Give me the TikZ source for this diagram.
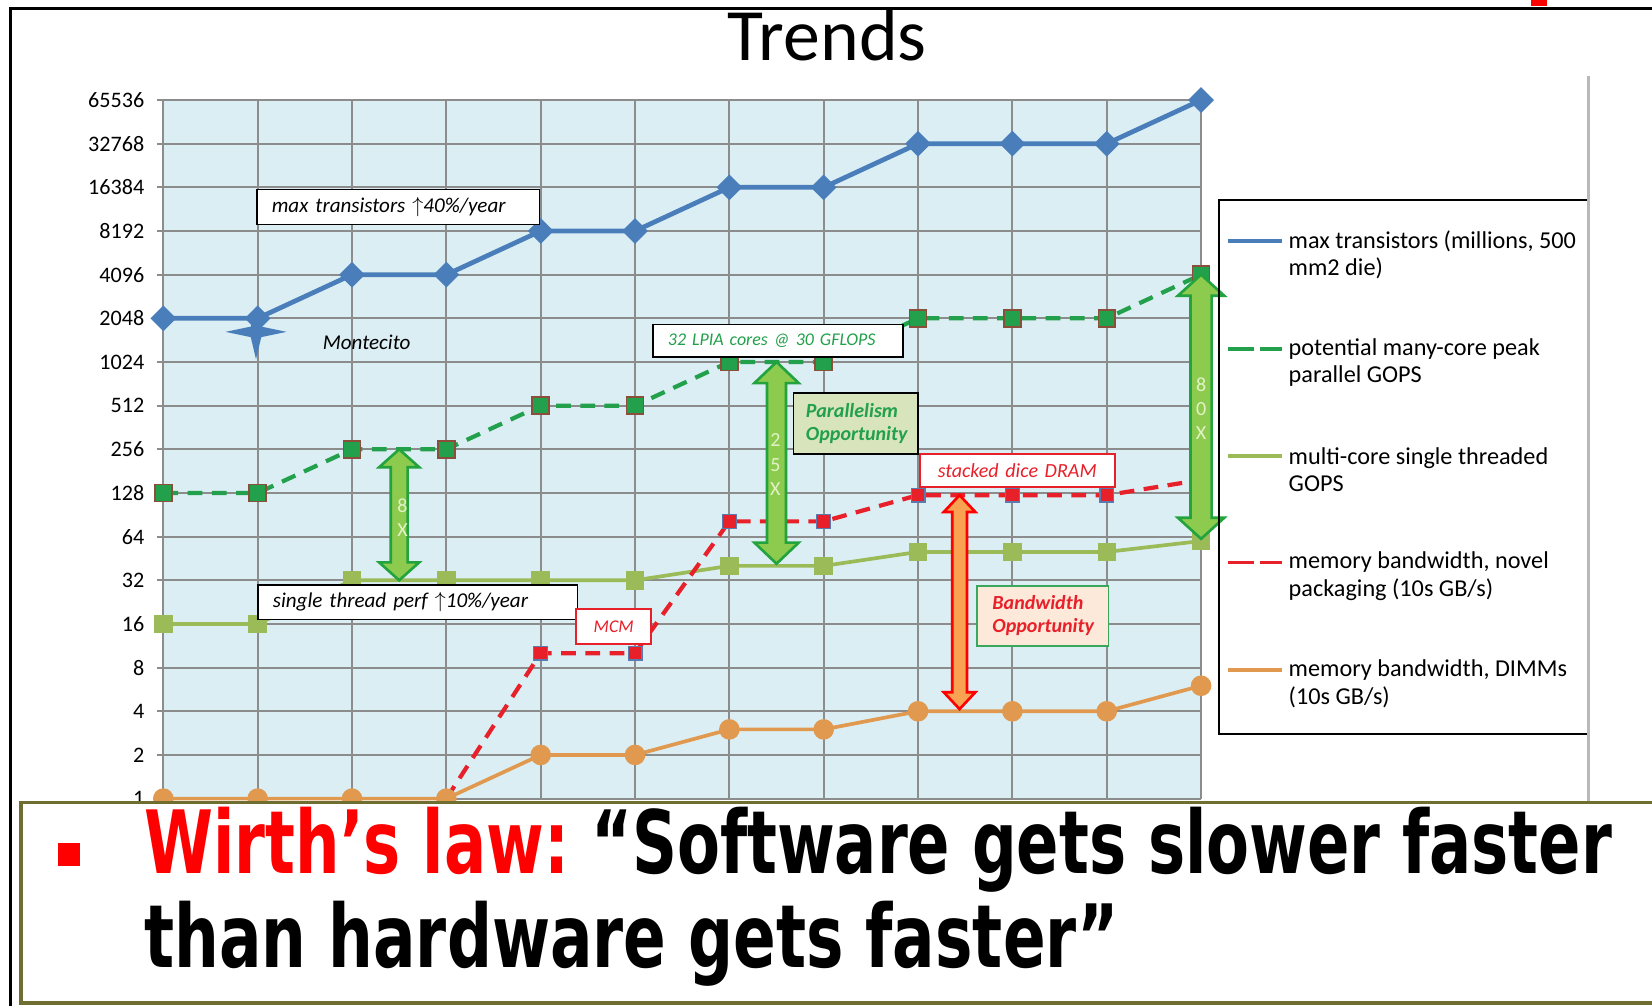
\documentclass[tikz,border=0pt]{standalone}
\usepackage{graphicx}
\usepackage{fontspec}
\setmainfont{Carlito}
\newfontfamily\lawfont{DejaVu Sans}
\usetikzlibrary{calc,plotmarks}

\definecolor{plotbg}{HTML}{DBEEF4}
\definecolor{gridgray}{HTML}{8C8C8C}
\definecolor{transblue}{HTML}{4A7EBB}
\definecolor{coregreen}{HTML}{22A04B}
\definecolor{markbrown}{HTML}{8A4E3A}
\definecolor{singleolive}{HTML}{9BBB59}
\definecolor{memred}{HTML}{E8202A}
\definecolor{markslate}{HTML}{5B7BB0}
\definecolor{dimmorange}{HTML}{E0994F}
\definecolor{arrowgreen}{HTML}{22A33E}
\definecolor{arrowfill}{HTML}{8DCB4E}
\definecolor{arrowlabel}{HTML}{E2F2C8}
\definecolor{bworange}{HTML}{F9A352}
\definecolor{parfill}{HTML}{D7E4BC}
\definecolor{bwfill}{HTML}{FCE9D9}
\definecolor{bwborder}{HTML}{3AA85A}
\definecolor{lawframe}{HTML}{6E6E30}
\definecolor{lawred}{HTML}{FF0000}

\newcommand\fatarrow[6]{%
  \draw[#1] (#2) -- ++(#5,-#6) -- ++(#4-#5,0) -- ($(#3)+(#4,#6)$) -- ++(#5-#4,0)
    -- (#3) -- ++(-#5,#6) -- ++(#5-#4,0) -- ($(#2)+(-#4,-#6)$) -- ++(#4-#5,0) -- cycle;}

\begin{document}
\begin{tikzpicture}[x=1pt,y=1pt,
  gridline/.style={draw=gridgray,line width=1.8pt},
  ylab/.style={anchor=east,inner sep=0pt,font=\fontsize{21}{21}\selectfont},
  note/.style={draw=black,fill=white,line width=1.6pt,inner xsep=14pt,inner ysep=0pt,
    align=left,font=\fontsize{20}{22}\selectfont\itshape},
  rednote/.style={note,draw=memred,text=memred,align=center,inner xsep=6pt},
  greenarrow/.style={draw=arrowgreen,fill=arrowfill,line width=2.5pt,line join=miter},
  redarrow/.style={draw=lawred,fill=bworange,line width=2.5pt,line join=miter},
  arrowlab/.style={text=arrowlabel,align=center,inner sep=0pt,font=\fontsize{19}{23}\selectfont},
  legtext/.style={anchor=west,align=left,inner sep=0pt,font=\fontsize{23}{26}\selectfont},
  legline/.style={line width=3.5pt},
  lawline/.style={anchor=base west,inner sep=0pt,font=\lawfont\bfseries}]
  \useasboundingbox (0,0) rectangle (1568,955);
  \fill[white] (0,0) rectangle (1568,955);
  \draw[line width=2.5pt] (10,0) -- (10,947) -- (1568,947);
  \fill[lawred] (1453,949) rectangle (1468,955);
  \node[anchor=base,inner sep=0pt,font=\fontsize{70}{70}\selectfont] (title) at (785,898) {Trends};
  \draw[gray!55,line width=3pt] (1508,883) -- (1508,193);

  \begin{scope}[shift={(155,197)},x=89.545pt,y=41.44pt]
    \fill[plotbg] (0,0) rectangle (11,16);
    \foreach \c in {0,...,11}
      \draw[gridline] (\c,0) -- (\c,16);
    \foreach \v [count=\i from 0] in {1,2,4,8,16,32,64,128,256,512,1024,2048,4096,8192,16384,32768,65536}
      {\draw[gridline] (-0.07,\i) -- (11,\i);
       \node[ylab] (ylab\i) at (-0.2,\i) {\v};}
    % multi-core single threaded
    \draw[singleolive,line width=3.5pt,mark=square*,mark size=7pt,mark options={fill=singleolive}]
      plot coordinates {(0,4) (1,4) (2,5) (3,5) (4,5) (5,5) (6,5.33) (7,5.33) (8,5.65) (9,5.65) (10,5.65) (11,5.9)};
    % many-core peak
    \draw[coregreen,line width=4pt,dash pattern=on 14pt off 9pt,mark=square*,mark size=8pt,
      mark options={solid,fill=coregreen,draw=markbrown,line width=1.5pt}]
      plot coordinates {(0,7) (1,7) (2,8) (3,8) (4,9) (5,9) (6,10) (7,10) (8,11) (9,11) (10,11) (11,12)};
    % max transistors
    \draw[transblue,line width=4.5pt,mark=square*,mark size=6.4pt,mark options={rotate=45,fill=transblue}]
      plot coordinates {(0,11) (1,11) (2,12) (3,12) (4,13) (5,13) (6,14) (7,14) (8,15) (9,15) (10,15) (11,16)};
    % novel packaging
    \draw[memred,line width=4pt,dash pattern=on 14pt off 9pt,mark=square*,mark size=6.5pt,
      mark options={solid,fill=memred,draw=markslate,line width=1.2pt}]
      plot coordinates {(3,0) (4,3.33) (5,3.33) (6,6.35) (7,6.35) (8,6.95) (9,6.95) (10,6.95) (11,7.3)};
    % DIMMs
    \draw[dimmorange,line width=3.5pt,mark=*,mark size=8pt,mark options={fill=dimmorange}]
      plot coordinates {(0,0) (1,0) (2,0) (3,0) (4,1) (5,1) (6,1.585) (7,1.585) (8,2) (9,2) (10,2) (11,2.585)};
    \coordinate (a8t) at (2.5,8);
    \coordinate (a8b) at (2.5,5);
    \coordinate (a25t) at (6.5,10);
    \coordinate (a25b) at (6.5,5.38);
    \coordinate (a80t) at (11,12);
    \coordinate (a80b) at (11,5.95);
    \coordinate (bwt) at (8.44,6.95);
    \coordinate (bwb) at (8.44,2.05);
  \end{scope}

  \fill[transblue] (272,640) -- (248,645) -- (243,664) -- (238,645) -- (214,640)
    -- (238,635) -- (243,614) -- (248,635) -- cycle;
  \node[inner sep=0pt,font=\fontsize{20}{20}\selectfont\itshape] (montecito) at (348,630) {Montecito};

  \fatarrow{greenarrow}{a8t}{a8b}{8}{19}{17}
  \fatarrow{greenarrow}{a25t}{a25b}{9}{21}{20}
  \fatarrow{greenarrow}{a80t}{a80b}{10}{22}{20}
  \fatarrow{redarrow}{bwt}{bwb}{7}{15}{16}
  \node[arrowlab] (lab8) at (382,463.5) {8\\X};
  \node[arrowlab] (lab25) at (736,514) {2\\5\\X};
  \node[arrowlab] (lab80) at (1140,567) {8\\0\\X};

  \node[note,text width=240pt,minimum height=33pt] (maxnote) at (378,758.5) {max transistors $\uparrow$40\%/year};
  \node[note,text width=275pt,minimum height=33pt] (stnote) at (396.5,383.5) {single thread perf $\uparrow$10\%/year};
  \node[note,text=coregreen,font=\fontsize{17}{20}\selectfont\itshape,text width=209pt,minimum height=31pt]
    (lpia) at (738.5,631.5) {32 LPIA cores @ 30 GFLOPS};
  \node[note,fill=parfill,text=coregreen,font=\fontsize{19}{22}\selectfont\bfseries\itshape,
    inner xsep=12pt,text width=94pt,minimum height=58pt] (parallel) at (812,553) {Parallelism\\Opportunity};
  \node[rednote,font=\fontsize{19}{22}\selectfont\itshape,text width=173pt,minimum height=31pt]
    (dram) at (965.5,508.5) {stacked dice DRAM};
  \node[rednote,inner xsep=4pt,text width=63pt,minimum height=33pt,font=\fontsize{17}{20}\selectfont\itshape]
    (mcm) at (582.5,360.5) {MCM};
  \node[note,draw=bwborder,fill=bwfill,text=memred,font=\fontsize{19}{22}\selectfont\bfseries\itshape,
    inner xsep=15pt,text width=95pt,minimum height=57pt] (bwnote) at (989.5,370.5) {Bandwidth\\Opportunity};

  % legend
  \draw[line width=1.6pt] (1508,765) -- (1157,765) -- (1157,258) -- (1508,258);
  \draw[gray!55,line width=3pt] (1508,770) -- (1508,250);
  \draw[legline,transblue] (1166,726) -- (1217,726);
  \node[legtext] (leg1) at (1223,713) {max transistors (millions, 500\\mm2 die)};
  \draw[legline,coregreen,dash pattern=on 24pt off 6pt] (1166,624) -- (1217,624);
  \node[legtext] (leg2) at (1223,611) {potential many-core peak\\parallel GOPS};
  \draw[legline,singleolive] (1166,522) -- (1217,522);
  \node[legtext] (leg3) at (1223,509) {multi-core single threaded\\GOPS};
  \draw[legline,memred,dash pattern=on 24pt off 6pt] (1166,421) -- (1217,421);
  \node[legtext] (leg4) at (1223,408) {memory bandwidth, novel\\packaging (10s GB/s)};
  \draw[legline,dimmorange] (1166,319) -- (1217,319);
  \node[legtext] (leg5) at (1223,306) {memory bandwidth, DIMMs\\(10s GB/s)};

  % Wirth's law
  \draw[lawframe,fill=white,line width=3pt] (1580,193) -- (20,193) -- (20,3) -- (1580,3);
  \node[fill=lawred,minimum size=21pt,inner sep=0pt] (bullet) at (65.5,144) {};
  \node[lawline] (law1) at (137,126)
    {\resizebox{1393pt}{63pt}{\textcolor{lawred}{Wirth’s law:}~“Software gets slower faster}};
  \node[lawline] (law2) at (137,37) {\resizebox{925pt}{63pt}{than hardware gets faster”}};
\end{tikzpicture}
\end{document}
